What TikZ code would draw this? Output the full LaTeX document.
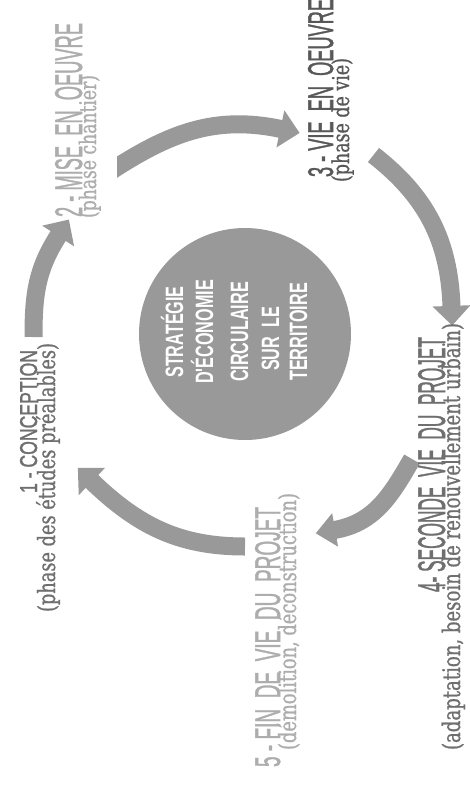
\documentclass[tikz,border=0pt]{standalone}
\usepackage{graphicx}
\usepackage{fontspec}
\usetikzlibrary{decorations.markings}

% faces: condensed sans for the headings, slab serif for the notes
\newfontfamily\titlefont{Liberation Sans}[FakeBold=1.5]
\newfontfamily\circfont{Liberation Sans}[FakeStretch=0.645, BoldFont={Liberation Sans Bold}]
\newfontfamily\subfont{DejaVu Serif}[FakeStretch=0.75, FakeBold=0.8]

\definecolor{ringgray}{HTML}{999999}
\definecolor{labdark}{HTML}{6F6F6F}
\definecolor{labdeep}{HTML}{585858}
\definecolor{lablight}{HTML}{ADADAD}

\tikzset{
  band/.style={draw=ringgray, line width=18pt},
  headed/.style={postaction={decorate, decoration={markings,
      mark=at position 0.9999 with {\fill[ringgray] (-0.6pt,-#1) -- (19pt,0pt) -- (-0.6pt,#1) -- cycle;}}}},
  headed/.default=19pt,
  ttl/.style={rotate=90, inner sep=0pt, outer sep=0pt, font=\titlefont, anchor=base west},
  sub/.style={rotate=90, inner sep=0pt, outer sep=0pt, font=\subfont, anchor=base west},
  ctext/.style={rotate=90, inner sep=0pt, outer sep=0pt, text=white, anchor=base,
      font=\circfont\bfseries\fontsize{25.1pt}{30pt}\selectfont},
}

\begin{document}
\begin{tikzpicture}[x=1pt,y=1pt]
  \fill[white] (0,0) rectangle (470,-787);
  \useasboundingbox (0,0) rectangle (470,-787);

  % central disc
  \fill[ringgray] (245,-334) circle[radius=106];
  \node[ctext] (c1) at (183,-332) {STRATÉGIE};
  \node[ctext] (c2) at (213,-332) {D'ÉCONOMIE};
  \node[ctext] (c3) at (248,-332) {CIRCULAIRE};
  \node[ctext] (c4) at (279,-339) {SUR\ \ LE};
  \node[ctext] (c5) at (307,-332) {TERRITOIRE};

  % ends of the five curved arrows
  \coordinate (a1s) at (33.5,-337);  \coordinate (a1e) at (58.5,-235.5);
  \coordinate (a2s) at (110.3,-171.4); \coordinate (a2e) at (281,-129);
  \coordinate (a3s) at (373.5,-155); \coordinate (a3e) at (451.5,-306.5);
  \coordinate (a4s) at (412,-459);   \coordinate (a4e) at (334.5,-530);
  \coordinate (a5s) at (245,-546.5); \coordinate (a5e) at (91.5,-481);

  \draw[band, headed] (a1s) to[out=90,  in=237] (a1e);
  % the second arrow starts on a vertical cut
  \begin{scope}
    \clip (117,0) rectangle (470,-787);
    \draw[band, headed] (a2s) to[out=33,  in=168] (a2e);
  \end{scope}
  \draw[band, headed] (a3s) to[out=-38, in=92]  (a3e);
  \draw[band, headed=17pt] (a4s) to[out=-120, in=10] (a4e);
  \draw[band, headed] (a5s) to[out=180, in=-44] (a5e);

  % stage 1
  \node[ttl, text=labdark] (t1) at (37,-493) {\resizebox{143pt}{17pt}{1 - CONCEPTION}};
  \node[sub, text=labdark] (s1) at (55,-612) {\resizebox{269pt}{!}{(phase des études préalables)}};
  % stage 2
  \node[ttl, text=lablight] (t2) at (82,-217) {\resizebox{194pt}{27pt}{2 - MISE\ \ EN\ \ OEUVRE}};
  \node[sub, text=lablight] (s2) at (96,-218) {\resizebox{143pt}{!}{(phase chantier)}};
  % stage 3
  \node[ttl, text=labdeep] (t3) at (333,-177) {\resizebox{178pt}{25pt}{3 - VIE\ \ EN\ \ OEUVRE}};
  \node[sub, text=labdeep] (s3) at (349,-182) {\resizebox{124pt}{!}{(phase de vie)}};
  % stage 4
  \node[ttl, text=labdark] (t4) at (445,-592) {\resizebox{255pt}{27pt}{4- SECONDE\ \ VIE\ \ DU\ \ PROJET}};
  \node[sub, text=labdark] (s4) at (460,-750) {\resizebox{427pt}{!}{(adaptation, besoin de renouvellement urbain)}};
  % stage 5
  \node[ttl, text=lablight] (t5) at (280,-767) {\resizebox{260pt}{25pt}{5 - FIN\ \ DE\ \ VIE\ \ DU\ \ PROJET}};
  \node[sub, text=lablight] (s5) at (296,-750) {\resizebox{257pt}{!}{(démolition, déconstruction)}};
\end{tikzpicture}
\end{document}
